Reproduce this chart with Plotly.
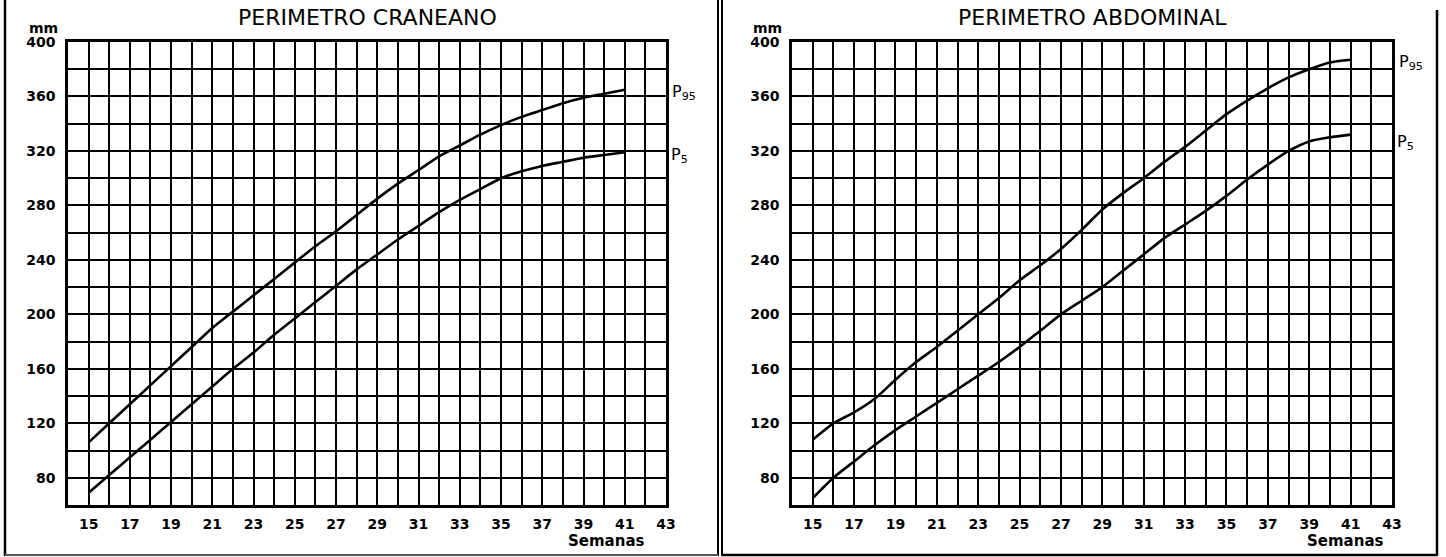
import plotly.graph_objects as go

# ---- data ----
weeks = list(range(15, 42))

cran_p95 = [106, 120, 134, 148, 162, 176, 190, 202, 214, 226, 238, 250, 261, 273,
            285, 296, 306, 316, 324, 332, 339, 345, 350, 355, 359, 362, 365]
cran_p5 = [69, 82, 95, 108, 121, 134, 147, 160, 172, 185, 197, 209, 221, 233,
           244, 255, 265, 275, 284, 292, 300, 305, 309, 312, 315, 317, 319]

abd_p95 = [108, 120, 128, 138, 152, 165, 176, 188, 200, 212, 225, 236, 248, 262,
           277, 289, 300, 312, 323, 335, 347, 357, 366, 374, 380, 385, 387]
abd_p5 = [65, 80, 92, 104, 115, 125, 135, 145, 155, 165, 176, 188, 200, 210,
          220, 232, 244, 256, 266, 276, 287, 299, 310, 320, 327, 330, 332]

x_grid = list(range(14, 44))
x_text = [str(v) if v % 2 == 1 else "" for v in x_grid]
y_grid = list(range(60, 401, 20))
y_text = [str(v) if (v % 40 == 0 and v >= 80) else "" for v in y_grid]

titles = ["PERIMETRO CRANEANO", "PERIMETRO ABDOMINAL"]

W, H = 1446, 557
FONT = "DejaVu Sans"

fig = go.Figure()

line_style = dict(color="black", width=2.6, shape="spline", smoothing=0.6)
fig.add_trace(go.Scatter(x=weeks, y=cran_p95, mode="lines", line=line_style,
                         xaxis="x", yaxis="y", showlegend=False))
fig.add_trace(go.Scatter(x=weeks, y=cran_p5, mode="lines", line=line_style,
                         xaxis="x", yaxis="y", showlegend=False))
fig.add_trace(go.Scatter(x=weeks, y=abd_p95, mode="lines", line=line_style,
                         xaxis="x2", yaxis="y2", showlegend=False))
fig.add_trace(go.Scatter(x=weeks, y=abd_p5, mode="lines", line=line_style,
                         xaxis="x2", yaxis="y2", showlegend=False))

def px(x):
    return x / W

def py(y):
    return 1 - y / H

tickfont = dict(family=FONT, size=14, color="black", weight="bold")
xcommon = dict(range=[14, 43], tickmode="array", tickvals=x_grid, ticktext=x_text,
               showgrid=True, gridcolor="black", gridwidth=1.8, zeroline=False,
               showline=True, linecolor="black", linewidth=2.5, mirror=True,
               ticks="", tickfont=tickfont, ticklabelstandoff=4, fixedrange=True,
               automargin=False)
ycommon = dict(range=[60, 400], tickmode="array", tickvals=y_grid, ticktext=y_text,
               showgrid=True, gridcolor="black", gridwidth=1.8, zeroline=False,
               showline=True, linecolor="black", linewidth=2.5, mirror=True,
               ticks="", tickfont=tickfont, ticklabelstandoff=7, fixedrange=True,
               automargin=False)

ydom = [py(505), py(42)]
fig.update_layout(
    width=W, height=H, autosize=False,
    margin=dict(l=0, r=0, t=0, b=0, pad=0),
    paper_bgcolor="white", plot_bgcolor="white",
    xaxis=dict(domain=[px(68), px(666)], anchor="y", **xcommon),
    yaxis=dict(domain=ydom, anchor="x", **ycommon),
    xaxis2=dict(domain=[px(792), px(1392)], anchor="y2", **xcommon),
    yaxis2=dict(domain=ydom, anchor="x2", **ycommon),
)

def ann(xc, yc, text, size, bold=False):
    return dict(x=px(xc), y=py(yc), xref="paper", yref="paper", text=text,
                xanchor="center", yanchor="middle", showarrow=False,
                font=dict(family=FONT, size=size, color="black",
                          weight="bold" if bold else "normal"))

annots = []
annots.append(ann((68 + 666) / 2, 18, titles[0], 22))
annots.append(ann((792 + 1392) / 2, 18, titles[1], 22))
for xc in [43, 767]:
    annots.append(ann(xc, 28, "mm", 14, True))
for xc in [606, 1345]:
    annots.append(ann(xc, 541, "Semanas", 15, True))
for xc, yc, t in [(684, 92, "P<sub>95</sub>"), (679, 155, "P<sub>5</sub>"),
                  (1411, 62, "P<sub>95</sub>"), (1405, 142, "P<sub>5</sub>")]:
    annots.append(ann(xc, yc, t, 16))
fig.update_layout(annotations=annots)

# scanned panel frames
shapes = []
def pline(x0, y0, x1, y1, w=2.5, c="black"):
    shapes.append(dict(type="line", xref="paper", yref="paper",
                       x0=px(x0), y0=py(y0), x1=px(x1), y1=py(y1),
                       line=dict(color=c, width=w)))
pline(5, 0, 5, 556)
pline(718, 0, 718, 556, 2)
pline(5, 555, 718, 555, 2, "#555")
pline(722, 0, 722, 556, 2)
pline(1437, 10, 1437, 556, 2.5)
pline(722, 555, 1437, 555, 2.5)
fig.update_layout(shapes=shapes)

fig.write_html("out.html", config={"displayModeBar": False},
               post_script="document.body.style.margin='0';document.body.style.overflow='hidden';")
